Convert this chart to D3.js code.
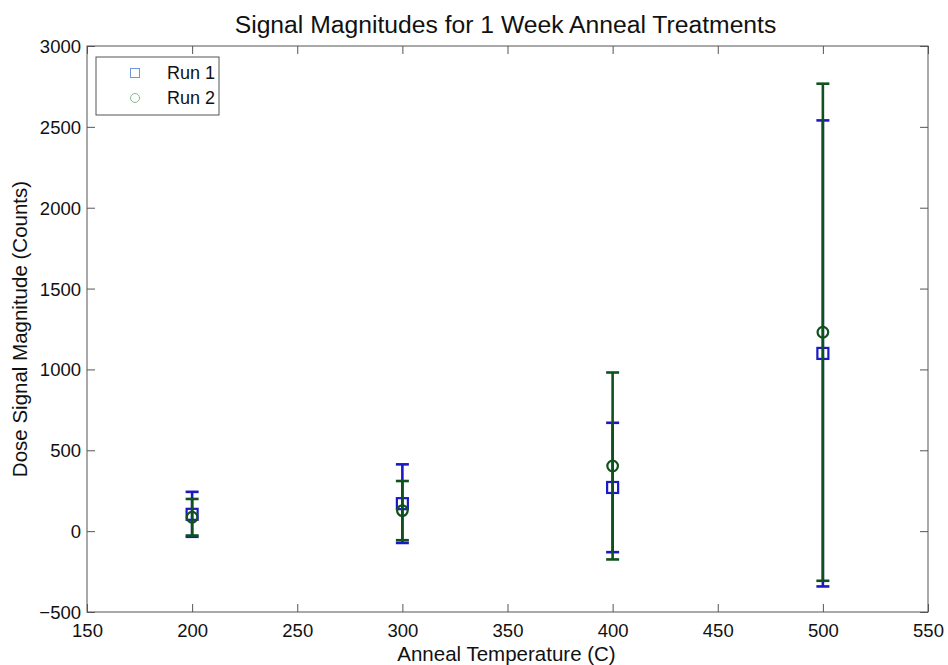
<!DOCTYPE html>
<html>
<head>
<meta charset="utf-8">
<script src="https://cdn.jsdelivr.net/npm/d3@7"></script>
<style>
  html, body { margin: 0; padding: 0; background: #fff; }
  svg { display: block; font-family: "Liberation Sans", Arial, Helvetica, sans-serif; }
</style>
</head>
<body>
<svg id="chart" width="948" height="665"></svg>
<script>
// Anneal temperatures (C)
const temps = [200, 300, 400, 500];
// Run 1: mean signal and symmetric error
const run1Mean = [104, 170, 270, 1099];
const run1Err  = [139, 243, 400, 1441];
// Run 2: mean signal and symmetric error
const run2Mean = [86, 127, 403, 1230];
const run2Err  = [113, 183, 578, 1537];
// Axis ticks
const xTicks = [150, 200, 250, 300, 350, 400, 450, 500, 550];
const yTicks = [-500, 0, 500, 1000, 1500, 2000, 2500, 3000];

const W = 948, H = 665;
const m = { left: 87, right: 20, top: 46, bottom: 53 };
const iw = W - m.left - m.right, ih = H - m.top - m.bottom;

const svg = d3.select("#chart");
const g = svg.append("g").attr("transform", `translate(${m.left},${m.top})`);

const x = d3.scaleLinear().domain([150, 550]).range([0, iw]);
const y = d3.scaleLinear().domain([-500, 3000]).range([ih, 0]);

const axisColor = "#555";
const tickLen = 8;

// Box around the plotting area
g.append("rect").attr("x", 0).attr("y", 0).attr("width", iw).attr("height", ih)
  .attr("fill", "none").attr("stroke", axisColor).attr("stroke-width", 1);

// Bottom and left axes with inward ticks
const xAxis = g.append("g").attr("transform", `translate(0,${ih})`)
  .call(d3.axisBottom(x).tickValues(xTicks).tickSizeInner(-tickLen).tickSizeOuter(0).tickPadding(12));
const yAxis = g.append("g")
  .call(d3.axisLeft(y).tickValues(yTicks).tickSizeInner(-tickLen).tickSizeOuter(0).tickPadding(6).tickFormat(d3.format("d")));
// Mirrored ticks on top and right
const xTop = g.append("g")
  .call(d3.axisTop(x).tickValues(xTicks).tickSizeInner(-tickLen).tickSizeOuter(0).tickFormat(""));
const yRight = g.append("g").attr("transform", `translate(${iw},0)`)
  .call(d3.axisRight(y).tickValues(yTicks).tickSizeInner(-tickLen).tickSizeOuter(0).tickFormat(""));

[xAxis, yAxis, xTop, yRight].forEach(a => {
  a.select(".domain").remove();
  a.selectAll(".tick line").attr("stroke", axisColor);
  a.selectAll("text").attr("fill", "#111").style("font-size", "18.5px")
    .style("font-family", "'Liberation Sans', Arial, sans-serif");
});
xAxis.selectAll("text").attr("dy", "0.71em");
yAxis.selectAll("text").attr("dy", "0.35em");

// Error bars with caps, one run at a time
const capW = 13;
function drawRun(means, errs, color, marker) {
  const data = temps.map((t, i) => ({ t, mean: means[i], err: errs[i] }));
  const grp = g.append("g");
  const eb = grp.selectAll("g.eb").data(data).join("g").attr("class", "eb");
  eb.append("line")
    .attr("x1", d => x(d.t)).attr("x2", d => x(d.t))
    .attr("y1", d => y(d.mean + d.err)).attr("y2", d => y(d.mean - d.err))
    .attr("stroke", color).attr("stroke-width", 2.6);
  [1, -1].forEach(s => {
    eb.append("line")
      .attr("x1", d => x(d.t) - capW / 2).attr("x2", d => x(d.t) + capW / 2)
      .attr("y1", d => y(d.mean + s * d.err)).attr("y2", d => y(d.mean + s * d.err))
      .attr("stroke", color).attr("stroke-width", 2.6);
  });
  if (marker === "square") {
    eb.append("rect")
      .attr("x", d => x(d.t) - 5.5).attr("y", d => y(d.mean) - 5.5)
      .attr("width", 11).attr("height", 11)
      .attr("fill", "none").attr("stroke", color).attr("stroke-width", 2.2);
  } else {
    eb.append("circle")
      .attr("cx", d => x(d.t)).attr("cy", d => y(d.mean)).attr("r", 5.3)
      .attr("fill", "none").attr("stroke", color).attr("stroke-width", 2.2);
  }
}
const blue = "#1a1ac4", green = "#0f521d";
drawRun(run1Mean, run1Err, blue, "square");
drawRun(run2Mean, run2Err, green, "circle");

// Legend
const leg = svg.append("g").attr("transform", "translate(96,57)");
leg.append("rect").attr("width", 123).attr("height", 58)
  .attr("fill", "#fff").attr("stroke", axisColor).attr("stroke-width", 1);
const legItems = [
  { label: "Run 1", color: "#6f98d8", marker: "square" },
  { label: "Run 2", color: "#88bb88", marker: "circle" }
];
legItems.forEach((it, i) => {
  const cy = 16 + i * 25;
  if (it.marker === "square") {
    leg.append("rect").attr("x", 39 - 4.5).attr("y", cy - 4.5).attr("width", 9).attr("height", 9)
      .attr("fill", "none").attr("stroke", it.color).attr("stroke-width", 1);
  } else {
    leg.append("circle").attr("cx", 39).attr("cy", cy).attr("r", 4.5)
      .attr("fill", "none").attr("stroke", it.color).attr("stroke-width", 1);
  }
  leg.append("text").attr("x", 71).attr("y", cy).attr("dy", "0.35em")
    .style("font-size", "18px").attr("fill", "#111").text(it.label);
});

// Titles
svg.append("text").attr("x", m.left + iw / 2 - 2).attr("y", 33).attr("text-anchor", "middle")
  .style("font-size", "24.7px").attr("fill", "#111")
  .text("Signal Magnitudes for 1 Week Anneal Treatments");
svg.append("text").attr("x", m.left + iw / 2 - 1).attr("y", 661).attr("text-anchor", "middle")
  .style("font-size", "20.5px").attr("fill", "#111")
  .text("Anneal Temperature (C)");
svg.append("text").attr("transform", `translate(27,${m.top + ih / 2}) rotate(-90)`)
  .attr("text-anchor", "middle")
  .style("font-size", "20.5px").attr("fill", "#111")
  .text("Dose Signal Magnitude (Counts)");
</script>
</body>
</html>
